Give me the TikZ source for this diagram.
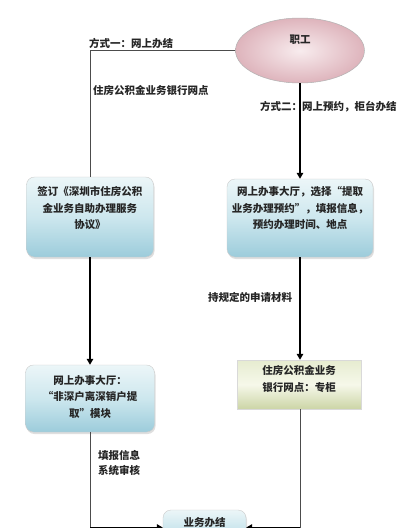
\documentclass[tikz,border=0pt]{standalone}
\usepackage{fontspec}
\newfontfamily\cjk{Noto Sans CJK SC}
\usetikzlibrary{arrows.meta,shadows,shapes.geometric}
\definecolor{pinkin}{RGB}{248,236,238}
\definecolor{pinkout}{RGB}{222,180,188}
\definecolor{bluetop}{RGB}{236,246,248}
\definecolor{bluemid}{RGB}{205,231,238}
\definecolor{bluebot}{RGB}{156,204,219}
\definecolor{greentop}{RGB}{230,236,208}
\definecolor{greenmid}{RGB}{246,248,234}
\definecolor{greenbot}{RGB}{204,213,166}
\newcommand\upt[2]{\raisebox{#1}[\height][\depth]{\begin{tabular}{@{}c@{}}#2\end{tabular}}}
\begin{document}
\begin{tikzpicture}[x=1pt,y=-1pt,
  every node/.style={font=\cjk\bfseries\fontsize{10.5}{16.5}\selectfont, text=black!85, inner sep=0pt},
  thinline/.style={draw=black!70, line width=0.8pt},
  thickarrow/.style={draw=black, line width=2pt, -{Triangle[length=6pt,width=6.5pt]}},
  softshadow/.style={drop shadow={shadow xshift=1pt, shadow yshift=-2pt, opacity=0.25, fill=black!50}},
  bluebox/.style={rounded corners=8pt, top color=bluetop, bottom color=bluebot, middle color=bluemid, draw=black!20, line width=0.4pt, softshadow},
  greenbox/.style={top color=greentop, bottom color=greenbot, middle color=greenmid, draw=black!15, line width=0.4pt},
  person/.style={ellipse, inner color=pinkin, outer color=pinkout, draw=black!30, line width=0.5pt},
  lbl/.style={anchor=west}]
\fill[white] (0,0) rectangle (403,528);
\useasboundingbox (0,0) rectangle (403,528);

\node[person, minimum width=129, minimum height=65] (emp) at (300,50.5) {\upt{10pt}{职工}};

\node[bluebox, minimum width=127, minimum height=80] (b1) at (90,217)
  {\upt{8pt}{签订《深圳市住房公积\\金业务自助办理服务\\协议》}};
\node[bluebox, minimum width=146, minimum height=78] (r1) at (300,218)
  {\upt{9pt}{网上办事大厅，选择“提取\\业务办理预约”，填报信息，\\预约办理时间、地点}};
\node[bluebox, minimum width=129, minimum height=67] (b2) at (90,398.5)
  {\upt{1pt}{网上办事大厅：\\“非深户离深销户提\\取”模块}};
\node[greenbox, minimum width=124, minimum height=49] (g) at (299,384.5)
  {\upt{5pt}{住房公积金业务\\银行网点：专柜}};
\node[bluebox, minimum width=83, minimum height=35] (done) at (204.5,527.5)
  {\upt{4pt}{业务办结}};

\node[lbl] (t1) at (89,43) {方式一：网上办结};
\node[lbl] (t2) at (93,91) {住房公积金业务银行网点};
\node[lbl] (t3) at (260,107) {方式二：网上预约，柜台办结};
\node[lbl] (t4) at (208,297) {持规定的申请材料};
\node[lbl] (t5) at (98,455) {填报信息};
\node[lbl] (t6) at (98,470) {系统审核};

\coordinate (ltop) at (b1.north |- emp.west);
\draw[thinline] (emp.west) -- (ltop) -- (b1.north);
\draw[thickarrow] (emp.south) -- (r1.north);
\draw[thickarrow] (b1.south) -- (b2.north);
\draw[thickarrow] (r1.south) -- (r1.south |- g.north);
\coordinate (lbot) at (b2.south |- done.west);
\draw[thinline] (b2.south) -- (lbot);
\draw[thickarrow] (lbot) -- (done.west);
\coordinate (rbot) at (300,527.5);
\draw[thinline] (g.south -| rbot) -- (rbot);
\draw[thickarrow] (rbot) -- (done.east);
\end{tikzpicture}
\end{document}
